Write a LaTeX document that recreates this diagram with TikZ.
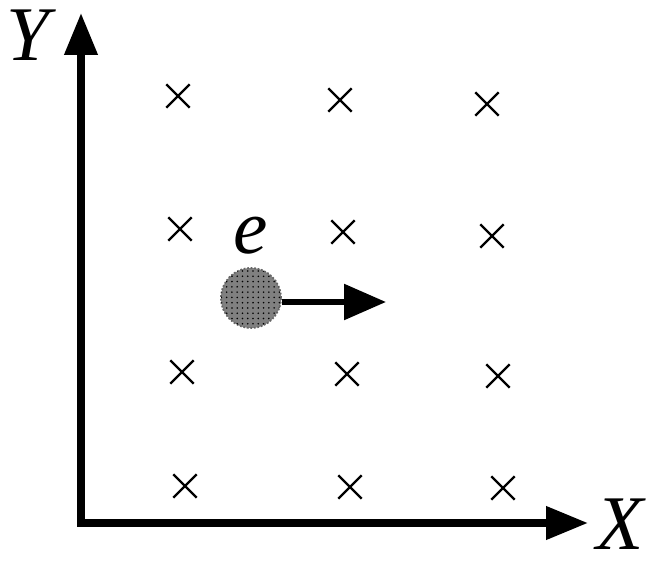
\documentclass[tikz,border=0pt]{standalone}
\usepackage{fontspec}
\setmainfont{Liberation Serif}
\usetikzlibrary{positioning,arrows.meta,shapes.misc,patterns}
\tikzset{
  axis/.style={line width=4.2pt,black,-{Triangle[length=0.84cm,width=0.64cm]}},
  vel/.style={line width=3.2pt,black,-{Triangle[length=0.84cm,width=0.7cm]}},
  fld/.style={cross out,draw=black,line width=1.4pt,minimum size=0.42cm,inner sep=0pt},
  elec/.style={circle,fill=black!50,postaction={pattern=dots},draw=black!60,densely dotted,line width=1pt,minimum size=1.2cm,inner sep=0pt},
  lab/.style={font=\fontsize{44}{44}\selectfont\itshape,inner sep=0pt},
}
\begin{document}
\begin{tikzpicture}
  \useasboundingbox (0,0) rectangle (13.1,11.22);
  \coordinate (O) at (1.62,0.76);
  \coordinate (ytip) at (1.62,10.96);
  \coordinate (xtip) at (11.76,0.76);
  \draw[axis] ([yshift=-2.1pt]O) -- (ytip);
  \draw[axis] ([xshift=-2.1pt]O) -- (xtip);
  \node[lab] (ylab) at (0.56,10.52) {Y};
  \node[lab] (xlab) at (12.4,0.74) {X};
  % field into the page
  \foreach \i/\x/\y in {1/3.56/9.3,2/6.8/9.22,3/9.74/9.14,
                        4/3.6/6.64,5/6.86/6.58,6/9.84/6.5,
                        7/3.64/3.78,8/6.94/3.74,9/9.96/3.7,
                        10/3.7/1.5,11/7.0/1.48,12/10.06/1.46}{
     \node[fld] (c\i) at (\x,\y) {};}
  % electron
  \node[elec] (el) at (5.02,5.26) {};
  \node[lab,above=0.26cm of el] (elab) {e};
  \coordinate (vtip) at (7.72,5.18);
  \draw[vel] (el.east |- vtip) -- (vtip);
\end{tikzpicture}
\end{document}
